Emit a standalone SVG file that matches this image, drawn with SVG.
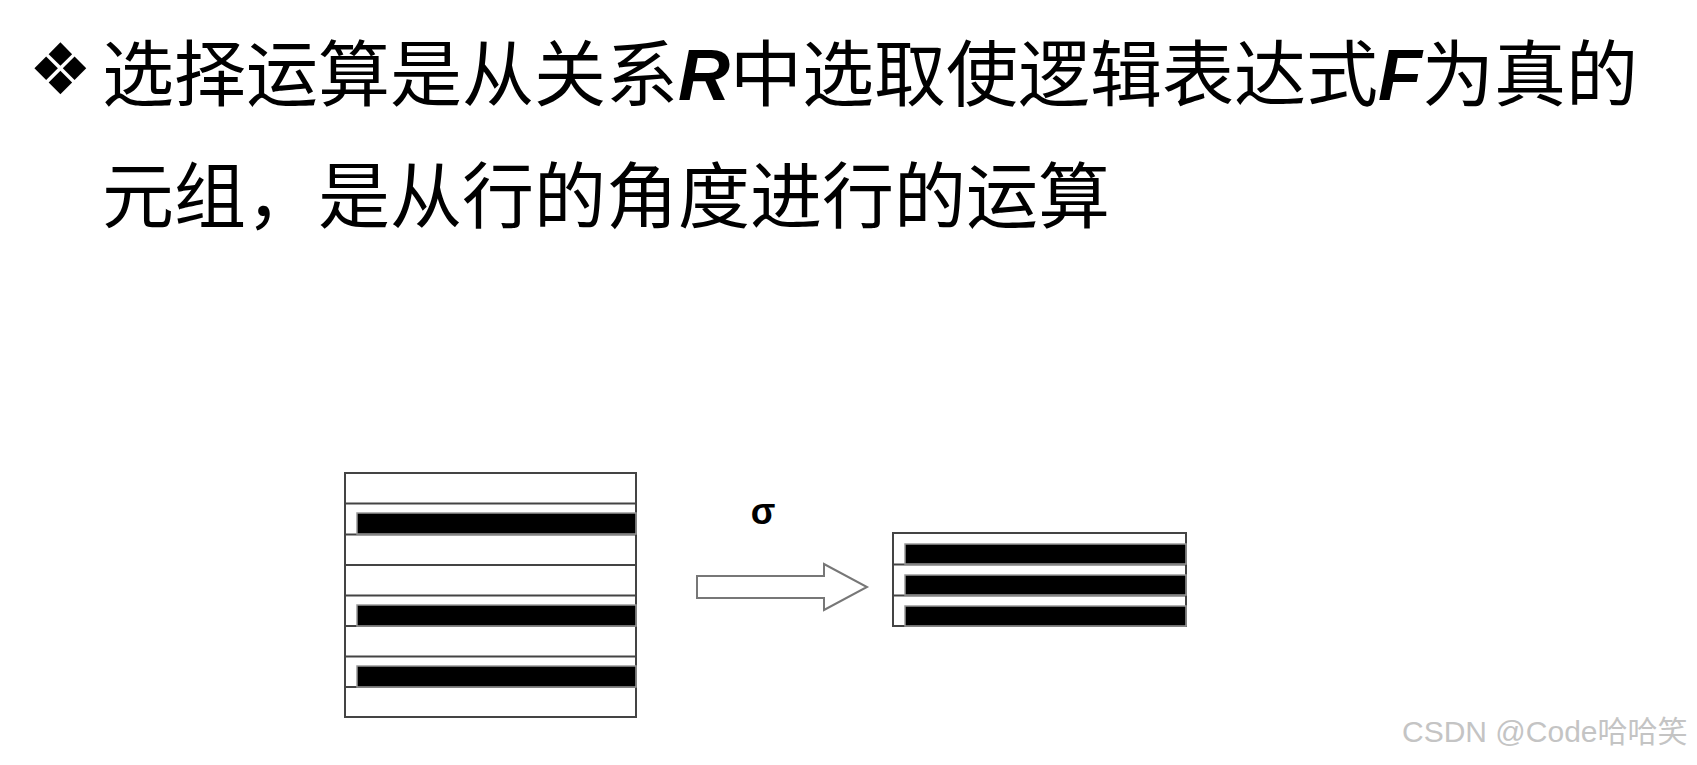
<svg xmlns="http://www.w3.org/2000/svg" width="1697" height="765" viewBox="0 0 1697 765">
<style>
  .title { font-family: "Noto Sans CJK SC", "Liberation Sans", sans-serif; font-size: 72px; fill: #000; }
  .var { font-family: "Liberation Sans", Arial, sans-serif; font-weight: bold; font-style: italic; }
  .frame { fill: #fff; stroke: #444; stroke-width: 2; }
  .rowline { stroke: #444; stroke-width: 2; }
  .bar { fill: #000; stroke: #999; stroke-width: 1.5; }
  .arrow { fill: #fff; stroke: #777; stroke-width: 2; stroke-linejoin: miter; }
  .sigma { font-family: "Liberation Sans", Arial, sans-serif; font-weight: bold; font-size: 36px; fill: #000; }
  .wm { font-family: "Liberation Sans", Arial, "Noto Sans CJK SC", sans-serif; font-size: 30px; fill: #c4c4c4; }
</style>
<rect width="1697" height="765" fill="#fff"/>

<g id="title">
  <text x="28.5" y="94" font-family="DejaVu Sans, sans-serif" font-size="71" fill="#000">❖</text>
  <text class="title" x="102" y="100">选择运算是从关系<tspan class="var">R</tspan>中选取使逻辑表达式<tspan class="var">F</tspan>为真的</text>
  <text class="title" x="102" y="222">元组，是从行的角度进行的运算</text>
</g>

<g id="relation-R">
  <rect class="frame" x="345" y="473" width="291" height="244"/>
  <line class="rowline" x1="345" y1="503.5" x2="636" y2="503.5"/>
  <line class="rowline" x1="345" y1="534.5" x2="636" y2="534.5"/>
  <line class="rowline" x1="345" y1="565" x2="636" y2="565"/>
  <line class="rowline" x1="345" y1="595.5" x2="636" y2="595.5"/>
  <line class="rowline" x1="345" y1="626" x2="636" y2="626"/>
  <line class="rowline" x1="345" y1="656.5" x2="636" y2="656.5"/>
  <line class="rowline" x1="345" y1="687" x2="636" y2="687"/>
  <rect class="bar" x="357" y="513" width="279" height="21"/>
  <rect class="bar" x="357" y="605" width="279" height="21"/>
  <rect class="bar" x="357" y="666" width="279" height="21"/>
</g>

<g id="connectors">
  <polygon class="arrow" points="697,576 824,576 824,564 867,587 824,610 824,598 697,598"/>
</g>

<g id="sigma-label">
  <text class="sigma" x="763" y="524" text-anchor="middle">σ</text>
</g>

<g id="result">
  <rect class="frame" x="893" y="533" width="293" height="93"/>
  <line class="rowline" x1="893" y1="564.5" x2="1186" y2="564.5"/>
  <line class="rowline" x1="893" y1="595.5" x2="1186" y2="595.5"/>
  <rect class="bar" x="905" y="544" width="281" height="20"/>
  <rect class="bar" x="905" y="575" width="281" height="20"/>
  <rect class="bar" x="905" y="606" width="281" height="20"/>
</g>

<g id="watermark">
  <text class="wm" x="1402" y="742">CSDN @Code哈哈笑</text>
</g>
</svg>
